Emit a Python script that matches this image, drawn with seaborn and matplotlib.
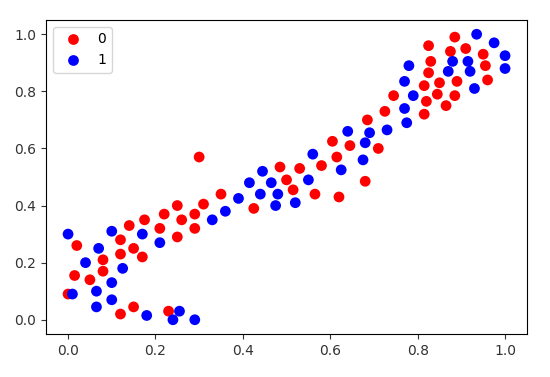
import pandas as pd
import seaborn as sns
import matplotlib.pyplot as plt


# points of class 0 (red)
red_x = [0.00, 0.015, 0.02, 0.05, 0.08, 0.08, 0.12, 0.12, 0.12, 0.14, 0.15, 0.15,
         0.17, 0.175, 0.21, 0.22, 0.23, 0.25, 0.25, 0.26, 0.29, 0.29, 0.30, 0.31,
         0.35, 0.425, 0.485, 0.50, 0.515, 0.53, 0.565, 0.58, 0.605, 0.615, 0.62,
         0.645, 0.68, 0.685, 0.71, 0.725, 0.745, 0.815, 0.82, 0.815, 0.825, 0.83,
         0.825, 0.845, 0.85, 0.865, 0.875, 0.885, 0.885, 0.89, 0.91, 0.95, 0.955,
         0.96]
red_y = [0.09, 0.155, 0.26, 0.14, 0.21, 0.17, 0.02, 0.23, 0.28, 0.33, 0.045, 0.25,
         0.22, 0.35, 0.32, 0.37, 0.03, 0.29, 0.40, 0.35, 0.37, 0.32, 0.57, 0.405,
         0.44, 0.39, 0.535, 0.49, 0.455, 0.53, 0.44, 0.54, 0.625, 0.57, 0.43,
         0.61, 0.485, 0.70, 0.60, 0.73, 0.785, 0.72, 0.765, 0.82, 0.865, 0.905,
         0.96, 0.79, 0.83, 0.75, 0.94, 0.785, 0.99, 0.835, 0.95, 0.93, 0.89,
         0.84]

# points of class 1 (blue)
blue_x = [0.00, 0.01, 0.04, 0.065, 0.065, 0.07, 0.10, 0.10, 0.10, 0.125, 0.17,
          0.18, 0.21, 0.24, 0.255, 0.29, 0.33, 0.36, 0.39, 0.415, 0.44, 0.445,
          0.465, 0.475, 0.48, 0.52, 0.55, 0.56, 0.625, 0.64, 0.675, 0.68, 0.69,
          0.73, 0.77, 0.775, 0.77, 0.78, 0.79, 0.87, 0.88, 0.915, 0.92, 0.93,
          0.935, 0.975, 1.00, 1.00]
blue_y = [0.30, 0.09, 0.20, 0.10, 0.045, 0.25, 0.31, 0.13, 0.07, 0.18, 0.30,
          0.015, 0.27, 0.00, 0.03, 0.00, 0.35, 0.38, 0.425, 0.48, 0.44, 0.52,
          0.48, 0.40, 0.44, 0.41, 0.49, 0.58, 0.525, 0.66, 0.56, 0.62, 0.655,
          0.665, 0.74, 0.69, 0.835, 0.89, 0.785, 0.87, 0.905, 0.905, 0.87, 0.81,
          1.00, 0.97, 0.925, 0.88]

labels = [0, 1]
colors = ['red', 'blue']


df = pd.DataFrame({
    'x': red_x + blue_x,
    'y': red_y + blue_y,
    'cls': [labels[0]] * len(red_x) + [labels[1]] * len(blue_x),
})

plt.rcParams['font.size'] = 10
fig = plt.figure(figsize=(5.5, 3.77), dpi=100)
ax = fig.add_axes([0.084, 0.114, 0.874, 0.833])

sns.scatterplot(data=df, x='x', y='y', hue='cls', palette=dict(zip(labels, colors)),
                s=60, linewidth=0, ax=ax)

ax.set_xlabel('')
ax.set_ylabel('')
ax.set_xticks([0.0, 0.2, 0.4, 0.6, 0.8, 1.0])
ax.set_yticks([0.0, 0.2, 0.4, 0.6, 0.8, 1.0])
ax.tick_params(colors='#333333')
ax.legend(loc='upper left', title=None)

fig.savefig('out.png', dpi=100)
